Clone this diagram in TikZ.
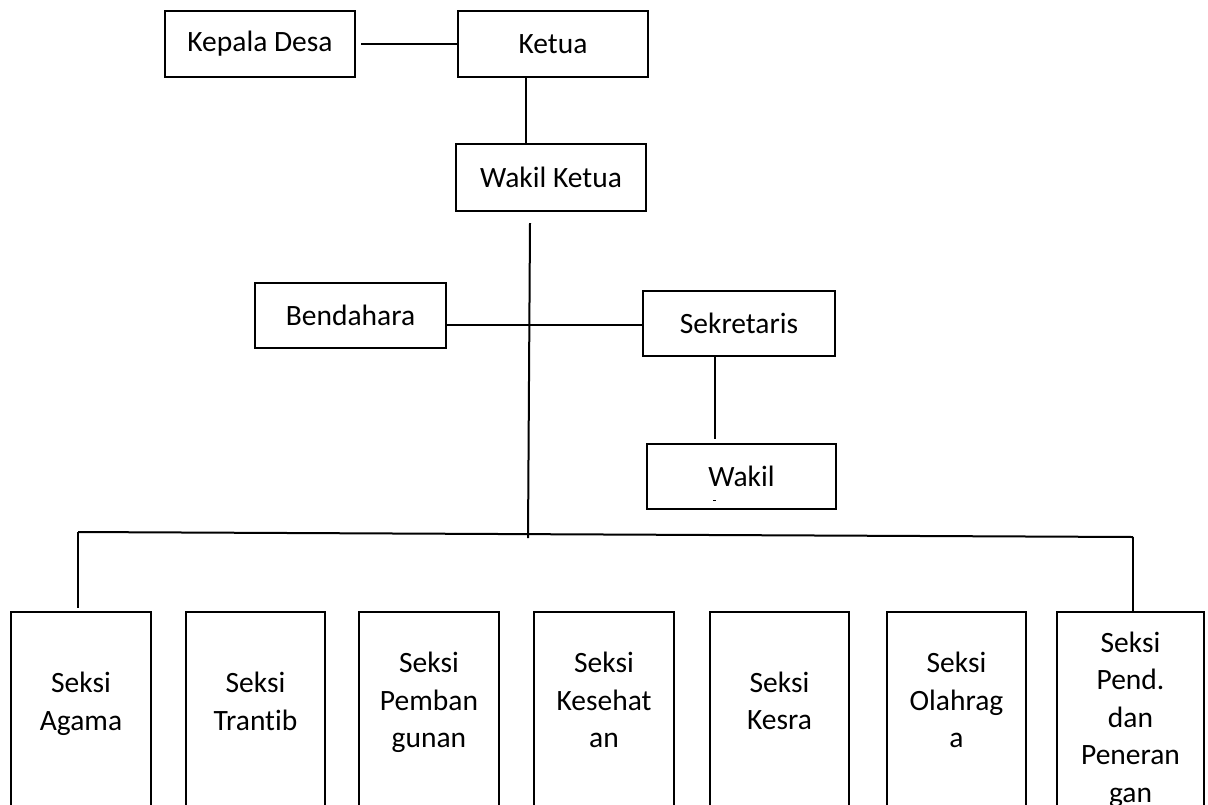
\documentclass[tikz,border=0pt]{standalone}
\usepackage{fontspec}
\setmainfont{Carlito}[Ligatures={NoCommon}]
\begin{document}
\begin{tikzpicture}[x=1pt,y=-1pt,
  box/.style={draw=black, line width=2pt, inner sep=0pt, rectangle,
    font=\fontsize{29.5}{37.5}\selectfont},
  lbl/.style={align=center, inner sep=0pt, anchor=base,
    font=\fontsize{29.5}{37.5}\selectfont},
  conn/.style={draw=black, line width=2pt}]
\useasboundingbox (0,0) rectangle (1208,804);
\fill[white] (0,0) rectangle (1208,804);
\clip (0,0) rectangle (1208,804);

% top boxes
\node[box, minimum width=190, minimum height=66] (kd) at (260,44) {Kepala Desa};
\node[box, minimum width=190, minimum height=66] (ketua) at (553,44) {Ketua};
\node[box, minimum width=190, minimum height=67] (wk) at (551,177.5) {Wakil Ketua};
\node[box, minimum width=191, minimum height=65] (bend) at (350.5,315.5) {Bendahara};
\node[box, minimum width=192, minimum height=65] (sek) at (739,323.5) {Sekretaris};
\node[box, minimum width=189, minimum height=65] (wakil) at (741.5,476.5) {Wakil};
\fill[black] (713,499.5) rectangle (716,500.8);

% bottom boxes
\node[box, minimum width=140, minimum height=300] (b1) at (81,762) {};
\node[box, minimum width=139, minimum height=300] (b2) at (255.5,762) {};
\node[box, minimum width=140, minimum height=300] (b3) at (429,762) {};
\node[box, minimum width=140, minimum height=300] (b4) at (604,762) {};
\node[box, minimum width=139, minimum height=300] (b5) at (779.5,762) {};
\node[box, minimum width=139, minimum height=300] (b6) at (956.5,762) {};
\node[box, minimum width=147, minimum height=300] (b7) at (1130.5,762) {};

% labels (base anchor = baseline of the last line)
\node[lbl] (t1) at (81,730) {Seksi\\Agama};
\node[lbl] (t2) at (255.5,730) {Seksi\\Trantib};
\node[lbl] (t3) at (429,747.5) {Seksi\\Pemban\\gunan};
\node[lbl] (t4) at (604,747.5) {Seksi\\Kesehat\\an};
\node[lbl] (t5) at (779.5,729.5) {Seksi\\Kesra};
\node[lbl] (t6) at (956.5,747.5) {Seksi\\Olahrag\\a};
\node[lbl] (t7) at (1130.5,802) {Seksi\\Pend.\\dan\\Peneran\\gan};

% coordinates
\coordinate (vtop) at (530,223);
\coordinate (vbot) at (528,538);
\coordinate (hb) at (0,325);
\coordinate (wv) at (715,0);
\coordinate (hl) at (78,532);
\coordinate (hr) at (1133,537);
\coordinate (kv) at (526,0);

% connectors
\draw[conn] ([xshift=5pt]kd.east) -- (ketua.west);
\draw[conn] (ketua.south -| kv) -- (wk.north -| kv);
\draw[conn] (vtop) -- (vbot);
\draw[conn] (bend.east |- hb) -- (sek.west |- hb);
\draw[conn] (sek.south -| wv) -- ([yshift=4pt]wakil.north -| wv);
\draw[conn] (hl) -- (hr);
\draw[conn] (hl) -- ([yshift=3pt]b1.north -| hl);
\draw[conn] (hr) -- (b7.north -| hr);
\end{tikzpicture}
\end{document}
